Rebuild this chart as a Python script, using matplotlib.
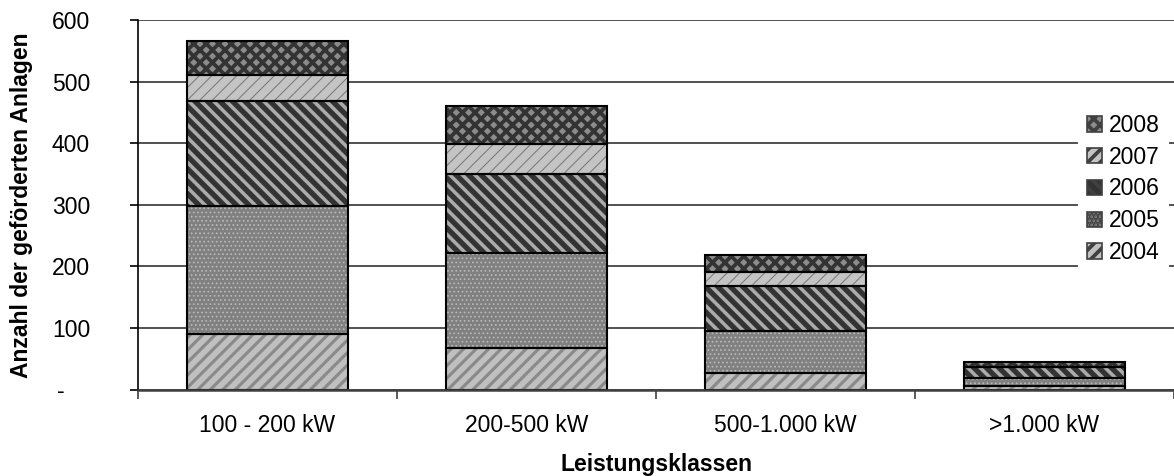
import matplotlib.pyplot as plt
from matplotlib.patches import Patch

plt.rcParams['font.family'] = ['Liberation Sans', 'DejaVu Sans']

# Data
klassen = ['100 - 200 kW', '200-500 kW', '500-1.000 kW', '>1.000 kW']
jahre = ['2004', '2005', '2006', '2007', '2008']
a2004 = [90, 67, 27, 5]
a2005 = [208, 154, 68, 13]
a2006 = [170, 129, 73, 18]
a2007 = [42, 48, 22, 1]
a2008 = [56, 62, 28, 8]
werte = [a2004, a2005, a2006, a2007, a2008]
yticks = [0, 100, 200, 300, 400, 500, 600]
ytick_labels = ['-    ', '100', '200', '300', '400', '500', '600']

# styles: face colour, hatch, hatch colour, hatch linewidth
styles = [
    ('#c0c0c0', '////', '#8a8a8a', 1.5),
    ('#808080', '......', '#b8b8b8', 0.5),
    ('#333333', '\\\\\\\\', '#ababab', 1.7),
    ('#c4c4c4', '////', '#7a7a7a', 0.5),
    ('#8c8c8c', 'xxxx', '#333333', 1.8),
]

fig = plt.figure(figsize=(1174 / 150, 476 / 150), dpi=150)
ax = fig.add_axes([138 / 1174, 1 - 389.5 / 476, 1 - 138 / 1174, (389.5 - 20) / 476])

x = [i + 0.5 for i in range(len(klassen))]
bottom = [0] * len(klassen)
handles = []
for jahr, vals, (fc, hatch, hc, hlw) in zip(jahre, werte, styles):
    plt.rcParams['hatch.linewidth'] = hlw
    bars = ax.bar(x, vals, 0.625, bottom=bottom, color=fc, hatch=hatch,
                  edgecolor=hc, linewidth=0, zorder=3)
    for b in bars:
        if hasattr(b, 'set_hatch_linewidth'):
            b.set_hatch_linewidth(hlw)
    ax.bar(x, vals, 0.625, bottom=bottom, fill=False, edgecolor='black',
           linewidth=1.0, zorder=4)
    h = Patch(facecolor=fc, hatch=hatch, edgecolor='#404040', linewidth=0.8)
    if hasattr(h, 'set_hatch_linewidth'):
        h.set_hatch_linewidth(hlw)
    handles.append(h)
    bottom = [b + v for b, v in zip(bottom, vals)]

ax.set_xlim(0, 4)
ax.set_ylim(0, 600)
ax.set_yticks(yticks)
ax.set_yticklabels(ytick_labels)
ax.set_xticks(x)
ax.set_xticklabels(klassen)
ax.set_xticks([0, 1, 2, 3, 4], minor=True)
ax.tick_params(axis='x', which='major', length=0, pad=12, labelsize=11)
ax.tick_params(axis='x', which='minor', length=4.5, width=0.8, color='#404040')
ax.tick_params(axis='y', length=4, width=0.8, labelsize=11, pad=19)
ax.yaxis.grid(True, color='#333333', linewidth=0.8, zorder=0)
ax.set_axisbelow(True)
for s in ['top', 'right']:
    ax.spines[s].set_visible(False)
ax.spines['left'].set_color('black')
ax.spines['left'].set_linewidth(0.8)
ax.spines['bottom'].set_color('#404040')
ax.spines['bottom'].set_linewidth(1.2)
ax.spines['bottom'].set_zorder(5)

ax.set_xlabel('Leistungsklassen', fontweight='bold', fontsize=11, labelpad=7.5)
ax.set_ylabel('Anzahl der geförderten Anlagen', fontweight='bold', fontsize=11, labelpad=9)

leg = ax.legend(handles[::-1], jahre[::-1], loc='center left',
                bbox_to_anchor=(1068 / 1174, 1 - 189 / 476), bbox_transform=fig.transFigure,
                frameon=True, fontsize=11, handlelength=0.65, handleheight=0.65,
                handletextpad=0.3, labelspacing=0.38, borderpad=0.35, fancybox=False)
leg.get_frame().set_edgecolor('white')
leg.get_frame().set_facecolor('white')
leg.get_frame().set_alpha(1)

fig.savefig('out.png', dpi=150)
